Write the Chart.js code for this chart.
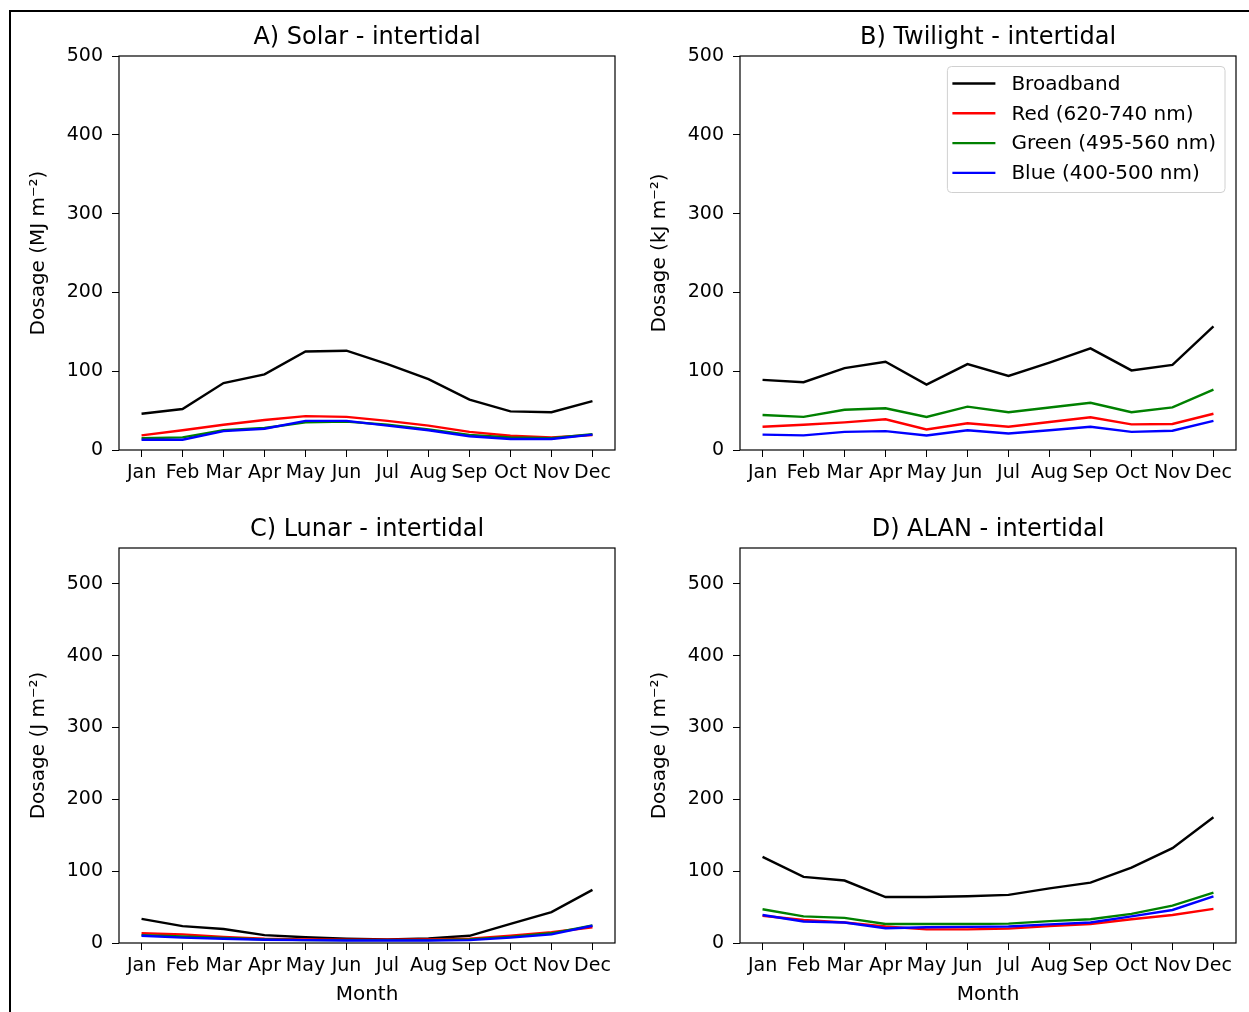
<!DOCTYPE html>
<html>
<head>
<meta charset="utf-8">
<script src="https://cdn.jsdelivr.net/npm/chart.js@4.4.1/dist/chart.umd.min.js"></script>
<style>
  body { margin: 0; background: #fff; }
  #fig { position: relative; width: 1249px; height: 1012px; overflow: hidden; }
  #frame { position: absolute; left: 9px; top: 10px; right: 0; bottom: 0; border-left: 2px solid #000; border-top: 2px solid #000; }
  .panel { position: absolute; display: block; }
</style>
</head>
<body>
<div id="fig">
  <div id="frame"></div>
  <canvas class="panel" id="solar" width="612" height="492" style="left:12px;top:12px"></canvas>
  <canvas class="panel" id="twilight" width="612" height="492" style="left:633px;top:12px"></canvas>
  <canvas class="panel" id="lunar" width="612" height="512" style="left:12px;top:500px"></canvas>
  <canvas class="panel" id="alan" width="612" height="512" style="left:633px;top:500px"></canvas>
</div>
<script>
const months = ['Jan', 'Feb', 'Mar', 'Apr', 'May', 'Jun', 'Jul', 'Aug', 'Sep', 'Oct', 'Nov', 'Dec'];
const seriesNames = ['Broadband', 'Red (620-740 nm)', 'Green (495-560 nm)', 'Blue (400-500 nm)'];
const seriesColors = ['#000000', '#ff0000', '#008000', '#0000ff'];
const yTicks = [0, 100, 200, 300, 400, 500];

// A) Solar (MJ m-2)
const solarBroadband = [46, 52, 85, 96, 125, 126, 109, 90, 64, 49, 48, 62];
const solarRed = [18.5, 25, 32, 38, 43, 42, 37, 31, 23, 18, 16, 19];
const solarGreen = [15, 16, 25, 28, 35, 36, 32, 26, 19, 16, 15, 20];
const solarBlue = [13, 13, 24, 27, 37, 37, 31, 25, 17.5, 14, 14, 19.5];

// B) Twilight (kJ m-2)
const twilightBroadband = [89, 86, 104, 112, 83, 109, 94, 111, 129, 101, 108, 157];
const twilightRed = [29.5, 32, 35, 39, 26, 34, 29.5, 35.5, 41.5, 32.5, 33, 46];
const twilightGreen = [44.5, 42, 51, 53, 42, 55, 48, 54, 60, 48, 54, 76.5];
const twilightBlue = [19.5, 18.5, 23, 24, 18.5, 25, 21, 25, 29.5, 23, 24.5, 37];

// C) Lunar (J m-2)
const lunarBroadband = [33.5, 23.5, 19.5, 11, 8, 6, 5, 6.5, 10, 26.5, 43, 74];
const lunarRed = [13.5, 12, 8.5, 6, 5, 4.5, 4.5, 5, 6, 10, 15, 22];
const lunarGreen = [11, 9, 7, 5, 4, 4, 4, 4, 5, 8.5, 13.5, 24.5];
const lunarBlue = [10, 7.5, 6, 4.5, 4, 3.5, 3.5, 3.5, 4, 7.5, 12, 24];

// D) ALAN (J m-2)
const alanBroadband = [120, 92, 87, 64, 64, 65, 67, 76, 84, 105, 132, 175];
const alanRed = [38, 32, 28.5, 23, 19, 19, 20, 23.5, 26.5, 33, 39, 47.5];
const alanGreen = [47, 37, 35, 26.5, 26.5, 26.5, 27, 30.5, 33, 40.5, 52, 70];
const alanBlue = [39, 30, 28.5, 20.5, 22, 22.5, 23, 26, 28.5, 37, 46, 65];

Chart.defaults.font.family = "'DejaVu Sans', sans-serif";
Chart.defaults.color = '#000';

// matplotlib-like box around the plot area
const framePlugin = {
  id: 'frame',
  afterDraw(chart) {
    const { ctx, chartArea: a } = chart;
    ctx.save();
    ctx.strokeStyle = '#000';
    ctx.lineWidth = 1.2;
    ctx.strokeRect(a.left, a.top, a.right - a.left, a.bottom - a.top);
    ctx.restore();
  }
};

// legend box drawn inside the plot, top right
const boxLegend = {
  id: 'boxLegend',
  afterDraw(chart, args, opts) {
    if (!opts.display) return;
    const { ctx, chartArea: a } = chart;
    const sets = chart.data.datasets;
    ctx.save();
    ctx.font = "20px 'DejaVu Sans'";
    const textW = Math.max(...sets.map(d => ctx.measureText(d.label).width));
    const w = 5 + 43 + 16 + textW + 9;
    const h = 126;
    const right = a.right - 11, top = a.top + 10.5, left = right - w;
    ctx.beginPath();
    if (ctx.roundRect) ctx.roundRect(left, top, w, h, 4); else ctx.rect(left, top, w, h);
    ctx.fillStyle = 'rgba(255,255,255,0.8)';
    ctx.fill();
    ctx.strokeStyle = '#d0d0d0';
    ctx.lineWidth = 1;
    ctx.stroke();
    ctx.textBaseline = 'middle';
    sets.forEach((d, i) => {
      const y = top + 17 + i * 29.8;
      ctx.strokeStyle = d.borderColor;
      ctx.lineWidth = 2.4;
      ctx.beginPath();
      ctx.moveTo(left + 5, y);
      ctx.lineTo(left + 48, y);
      ctx.stroke();
      ctx.fillStyle = '#000';
      ctx.fillText(d.label, left + 64, y + 1);
    });
    ctx.restore();
  }
};

function makePanel(id, title, yLabel, yMax, series, opts) {
  const tall = opts.month;
  new Chart(document.getElementById(id), {
    type: 'line',
    data: {
      datasets: series.map((vals, k) => ({
        label: seriesNames[k],
        data: vals.map((v, i) => ({ x: i, y: v })),
        borderColor: seriesColors[k],
        backgroundColor: seriesColors[k],
        borderWidth: 2.4,
        pointRadius: 0,
        tension: 0,
        fill: false,
        order: 3 - k
      }))
    },
    options: {
      responsive: false,
      animation: false,
      layout: { padding: { right: 9 } },
      plugins: {
        legend: { display: false },
        tooltip: { enabled: false },
        title: {
          display: true,
          text: title,
          fullSize: false,
          color: '#000',
          font: { size: 24, weight: 'normal' },
          padding: { top: tall ? 15.6 : 11.6, bottom: 3.6 }
        },
        boxLegend: { display: !!opts.legend }
      },
      scales: {
        x: {
          type: 'linear',
          min: -0.55,
          max: 11.55,
          afterBuildTicks: ax => { ax.ticks = months.map((m, i) => ({ value: i })); },
          afterFit: ax => { ax.height = tall ? 69 : 54; },
          ticks: { callback: v => months[v], font: { size: 19 }, color: '#000', padding: 5, maxRotation: 0, autoSkip: false },
          grid: { drawOnChartArea: false, drawTicks: true, tickLength: 7, color: '#000', tickColor: '#000' },
          border: { display: false },
          title: { display: tall, text: 'Month', color: '#000', font: { size: 20 }, padding: { top: 0, bottom: 5 } }
        },
        y: {
          min: 0,
          max: yMax,
          afterBuildTicks: ax => { ax.ticks = yTicks.map(v => ({ value: v })); },
          afterFit: ax => { ax.width = 107; },
          ticks: { font: { size: 19 }, color: '#000', padding: 9 },
          grid: { drawOnChartArea: false, drawTicks: true, tickLength: 7, color: '#000', tickColor: '#000' },
          border: { display: false },
          title: { display: true, text: yLabel, color: '#000', font: { size: 20 }, padding: { top: 15, bottom: 0 } }
        }
      }
    },
    plugins: [framePlugin, boxLegend]
  });
}

makePanel('solar', 'A) Solar - intertidal', 'Dosage (MJ m⁻²)', 500,
  [solarBroadband, solarRed, solarGreen, solarBlue], {});
makePanel('twilight', 'B) Twilight - intertidal', 'Dosage (kJ m⁻²)', 500,
  [twilightBroadband, twilightRed, twilightGreen, twilightBlue], { legend: true });
makePanel('lunar', 'C) Lunar - intertidal', 'Dosage (J m⁻²)', 550,
  [lunarBroadband, lunarRed, lunarGreen, lunarBlue], { month: true });
makePanel('alan', 'D) ALAN - intertidal', 'Dosage (J m⁻²)', 550,
  [alanBroadband, alanRed, alanGreen, alanBlue], { month: true });
</script>
</body>
</html>
